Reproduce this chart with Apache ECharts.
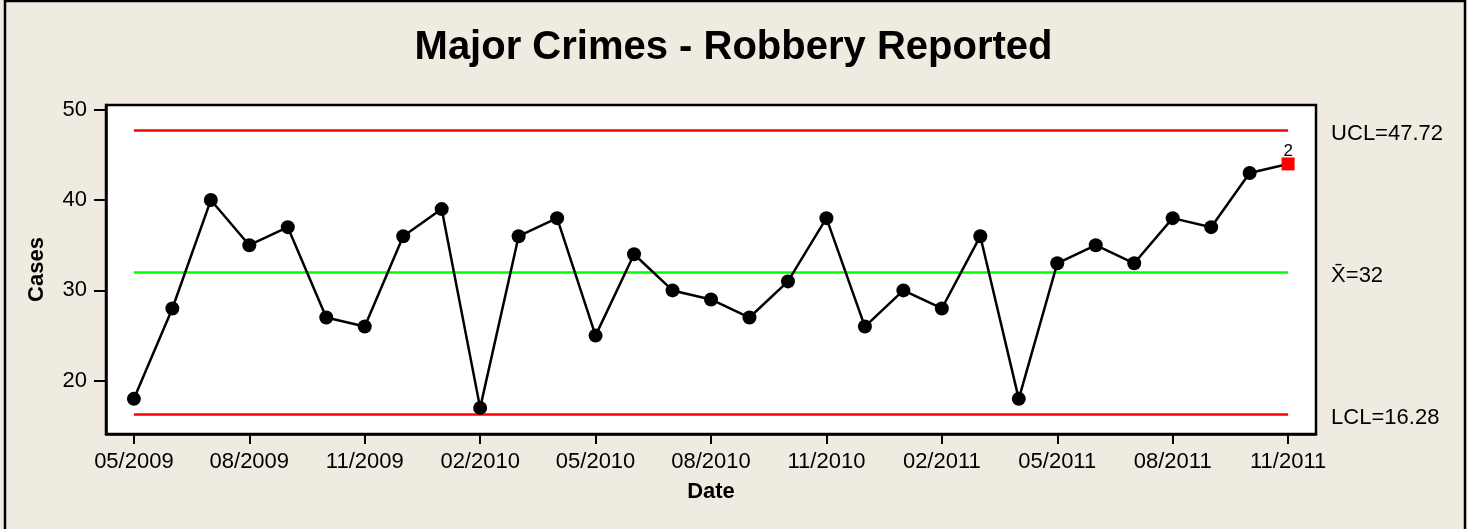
<!DOCTYPE html>
<html>
<head>
<meta charset="utf-8">
<script src="https://cdn.jsdelivr.net/npm/echarts@6/dist/echarts.min.js"></script>
<style>
html,body{margin:0;padding:0;background:#EFEBE1;}
#chart{width:1467px;height:529px;}
</style>
</head>
<body>
<div id="chart"></div>
<script>
// ---- data ----
const months = ['05/2009','06/2009','07/2009','08/2009','09/2009','10/2009','11/2009','12/2009','01/2010','02/2010',
  '03/2010','04/2010','05/2010','06/2010','07/2010','08/2010','09/2010','10/2010','11/2010','12/2010',
  '01/2011','02/2011','03/2011','04/2011','05/2011','06/2011','07/2011','08/2011','09/2011','10/2011','11/2011'];
const cases = [18,28,40,35,37,27,26,36,39,17,
  36,38,25,34,30,29,27,31,38,26,
  30,28,36,18,33,35,33,38,37,43,44];
const xTickIdx = [0,3,6,9,12,15,18,21,24,27,30];
const yTicks = [20,30,40,50];
const UCL = 47.72, MEAN = 32, LCL = 16.28;
const flaggedIdx = [30];
const flaggedTest = ['2'];
const titleText = 'Major Crimes - Robbery Reported';

const FONT = "'Liberation Sans', Arial, sans-serif";

const seriesData = cases.map((v, i) => {
  const k = flaggedIdx.indexOf(i);
  if (k >= 0) {
    return {
      value: [i, v], symbol: 'rect', symbolSize: 13,
      itemStyle: {color: '#ff0000'},
      label: {show: true, position: 'top', distance: -2, formatter: flaggedTest[k],
               fontSize: 17, color: '#000', fontFamily: FONT}
    };
  }
  return [i, v];
});

function limitLine(val, text, color) {
  return [
    {coord: [0, val], lineStyle: {color: color, width: 2.5, type: 'solid'},
     label: {show: true, position: 'end', distance: 43, formatter: text, color: '#000',
             fontSize: 22, fontFamily: FONT, verticalAlign: 'top', lineHeight: 8}},
    {coord: [cases.length - 1, val]}
  ];
}

const chart = echarts.init(document.getElementById('chart'), null, {renderer: 'canvas'});
chart.setOption({
  animation: false,
  backgroundColor: '#EFEBE1',
  title: {
    text: titleText, left: 'center', top: 23,
    textStyle: {fontSize: 40, fontWeight: 'bold', color: '#000', fontFamily: FONT}
  },
  graphic: [{
    type: 'rect', shape: {x: 5, y: 1, width: 1460, height: 560},
    style: {fill: 'none', stroke: '#000', lineWidth: 2.5}, silent: true
  }],
  grid: {
    left: 106, right: 151, top: 105, bottom: 95,
    show: true, backgroundColor: '#ffffff', borderColor: '#000', borderWidth: 2.5
  },
  xAxis: {
    type: 'value', min: -0.725, max: 30.725,
    name: 'Date', nameLocation: 'middle', nameGap: 47,
    nameTextStyle: {fontSize: 22, fontWeight: 'bold', color: '#000', fontFamily: FONT},
    axisLine: {show: true, onZero: false, lineStyle: {color: '#000', width: 2.5}},
    axisTick: {show: true, length: 10, lineStyle: {color: '#000', width: 2}, customValues: xTickIdx},
    axisLabel: {customValues: xTickIdx, formatter: v => months[Math.round(v)], margin: 17,
                fontSize: 22, color: '#000', fontFamily: FONT},
    splitLine: {show: false}
  },
  yAxis: {
    type: 'value', min: 14.11, max: 50.52,
    name: 'Cases', nameLocation: 'middle', nameGap: 58, nameRotate: 90,
    nameTextStyle: {fontSize: 22, fontWeight: 'bold', color: '#000', fontFamily: FONT},
    axisLine: {show: true, onZero: false, lineStyle: {color: '#000', width: 2.5}},
    axisTick: {show: true, length: 12, lineStyle: {color: '#000', width: 2}, customValues: yTicks},
    axisLabel: {customValues: yTicks, margin: 19, fontSize: 22, color: '#000', fontFamily: FONT},
    splitLine: {show: false}
  },
  series: [{
    type: 'line', data: seriesData,
    symbol: 'circle', symbolSize: 14,
    lineStyle: {color: '#000', width: 2.5},
    itemStyle: {color: '#000'},
    z: 5,
    markLine: {
      silent: true, symbol: ['none', 'none'], animation: false,
      data: [
        limitLine(UCL, 'UCL=' + UCL, '#ff0000'),
        limitLine(MEAN, 'X\u0304=' + MEAN, '#00ff00'),
        limitLine(LCL, 'LCL=' + LCL, '#ff0000')
      ]
    }
  }]
});
</script>
</body>
</html>
